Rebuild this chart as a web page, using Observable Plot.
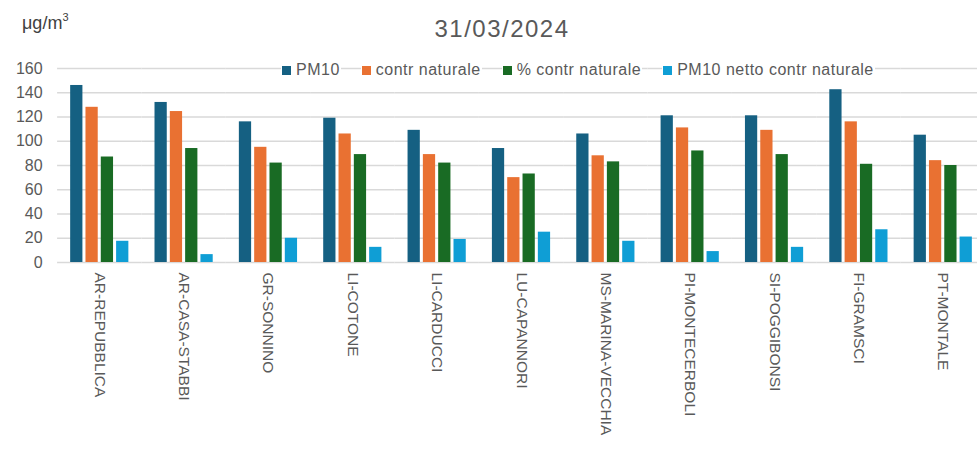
<!DOCTYPE html>
<html><head><meta charset="utf-8">
<script src="https://cdn.jsdelivr.net/npm/d3@7"></script>
<script src="https://cdn.jsdelivr.net/npm/@observablehq/plot@0.6"></script>
<style>
body{margin:0;background:#fff;font-family:"Liberation Sans",Arial,sans-serif;}
#wrap{position:relative;width:977px;height:450px;overflow:hidden;background:#fff}
#chart{position:absolute;left:0;top:0}
#title{position:absolute;left:402px;width:200px;text-align:center;top:15px;font-size:24px;letter-spacing:1.5px;color:#595959;white-space:nowrap}
#unit{position:absolute;left:22px;top:12px;font-size:18px;color:#404040;white-space:nowrap}
#unit sup{font-size:11px;position:relative;top:-1px}
#legend{position:absolute;left:281px;top:61px;display:flex;gap:20px;font-size:16px;letter-spacing:0.5px;color:#595959;white-space:nowrap}
#legend .item{display:flex;align-items:center;background:#fff;padding:0 1px}
#legend .sw{width:9px;height:9px;margin-right:5px;display:inline-block}
</style>
</head><body>
<div id="wrap">
  <div id="chart"></div>
  <div id="title"></div>
  <div id="unit">μg/m<sup>3</sup></div>
  <div id="legend"></div>
</div>
<script>
const titleText = "31/03/2024";
const stations = ["AR-REPUBBLICA","AR-CASA-STABBI","GR-SONNINO","LI-COTONE","LI-CARDUCCI","LU-CAPANNORI","MS-MARINA-VECCHIA","PI-MONTECERBOLI","SI-POGGIBONSI","FI-GRAMSCI","PT-MONTALE"];
const series = ["PM10","contr naturale","% contr naturale","PM10 netto contr naturale"];
const colors = ["#156082","#E97132","#196B24","#0F9ED5"];
const pm10 =          [146, 132, 116, 119, 109, 94, 106, 121, 121, 142.5, 105];
const contrNaturale = [128, 124.5, 95, 106, 89, 70, 88, 111, 109, 116, 84];
const percContr =     [87, 94, 82, 89, 82, 73, 83, 92, 89, 81, 80];
const pm10Netto =     [17.5, 6.5, 20, 12.5, 19, 25, 17.5, 9, 12.5, 27, 21];
const yTicks = [0, 20, 40, 60, 80, 100, 120, 140, 160];

const valuesBySeries = [pm10, contrNaturale, percContr, pm10Netto];
const data = stations.flatMap((s, i) => series.map((k, j) => ({station: s, series: k, value: valuesBySeries[j][i]})));

document.getElementById("title").textContent = titleText;
const leg = document.getElementById("legend");
series.forEach((s, j) => {
  const it = document.createElement("span");
  it.className = "item";
  const sw = document.createElement("span");
  sw.className = "sw"; sw.style.background = colors[j];
  it.appendChild(sw);
  it.appendChild(document.createTextNode(s));
  leg.appendChild(it);
});

const W = 977, mL = 57, mR = -8;
const pIn = 0.31, pOut = 0.156;
const step = (W - mL - mR) / (stations.length - pIn + 2 * pOut);
const halfGap = pIn * step / 2;

const chart = Plot.plot({
  width: W, height: 450,
  marginTop: 68, marginBottom: 188, marginLeft: mL, marginRight: mR,
  style: {fontFamily: "Liberation Sans, Arial, sans-serif", background: "transparent"},
  fx: {domain: stations, paddingInner: pIn, paddingOuter: pOut, round: false, label: null},
  x: {domain: series, paddingInner: 0.2, paddingOuter: 0, round: false, axis: null},
  y: {domain: [0, 160], label: null},
  color: {domain: series, range: colors},
  marks: [
    Plot.ruleY(yTicks, {stroke: "#d9d9d9", strokeWidth: 1.5, insetLeft: -halfGap, insetRight: -halfGap}),
    Plot.barY(data, {fx: "station", x: "series", y: "value", fill: "series"}),
    Plot.axisY({ticks: yTicks, tickSize: 0, tickPadding: 28, fontSize: 16, color: "#595959", label: null}),
    Plot.axisFx({anchor: "bottom", tickRotate: 90, tickSize: 0, tickPadding: 10, fontSize: 15.5, color: "#595959", label: null})
  ]
});
document.getElementById("chart").appendChild(chart);
</script>
</body></html>
